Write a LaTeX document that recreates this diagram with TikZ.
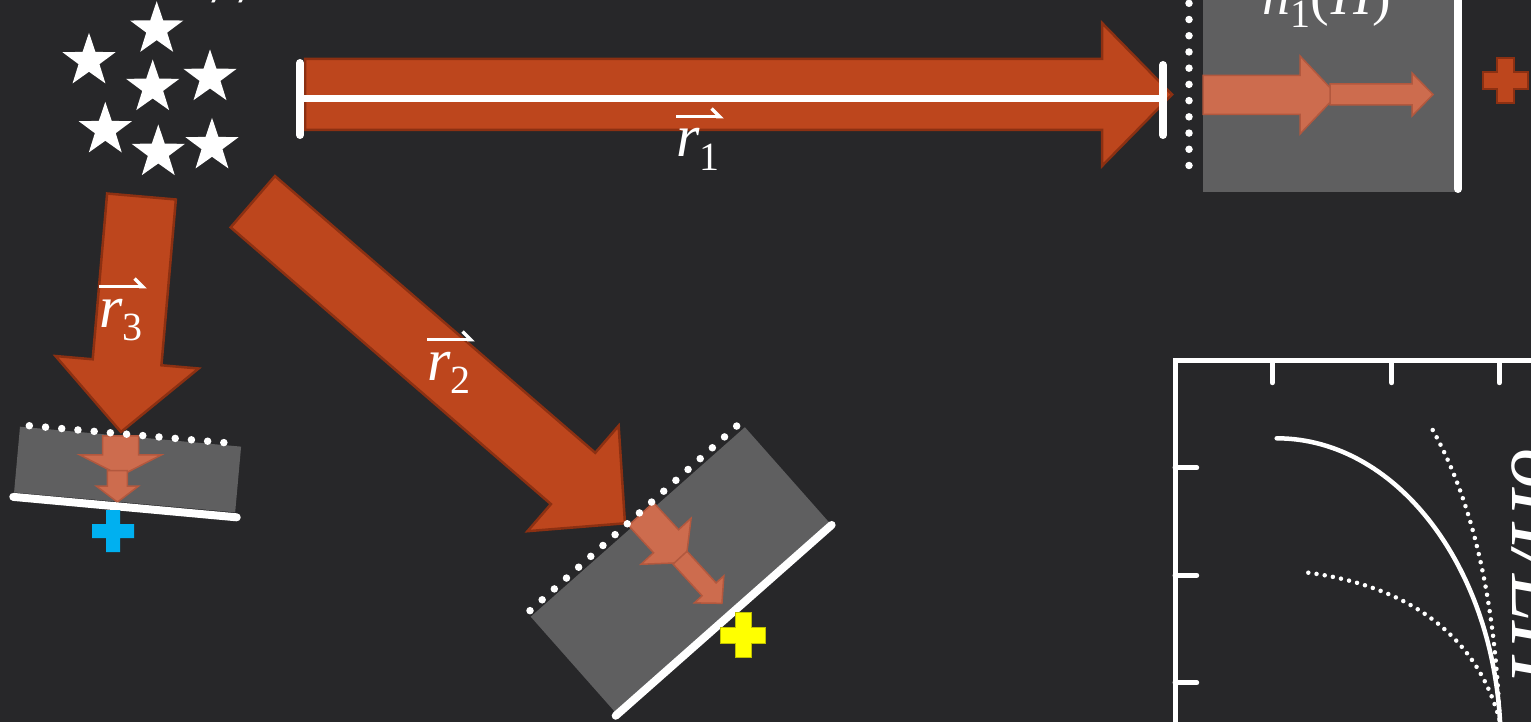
\documentclass[tikz,border=0pt]{standalone}
\usepackage{fontspec}
\newfontfamily\carl{Carlito}
\newfontfamily\lbs{Liberation Serif}
\usetikzlibrary{shapes.geometric,arrows.meta}
\definecolor{bg}{RGB}{39,39,41}
\definecolor{rust}{RGB}{189,70,29}
\definecolor{rustdark}{RGB}{140,48,18}
\definecolor{paleo}{RGB}{205,108,78}
\definecolor{paleodark}{RGB}{178,88,62}
\definecolor{boxgray}{RGB}{95,95,96}
\definecolor{skyb}{RGB}{0,176,240}
\definecolor{yel}{RGB}{255,255,0}
\definecolor{yeldark}{RGB}{190,190,0}
\newcommand\subtxt[1]{\raisebox{-0.22em}{\fontsize{40}{40}\selectfont\upshape #1}}
\tikzset{
  pics/barrow/.style n args={4}{code={%
    \path[pic actions] (0,#2) -- ({#1-#4},#2) -- ({#1-#4},#3) -- (#1,0) -- ({#1-#4},-#3) -- ({#1-#4},-#2) -- (0,-#2) -- cycle;}},
  pics/plusmark/.style 2 args={code={%
    \path[pic actions] ({-#2/2},{#1/2}) -- ({#2/2},{#1/2}) -- ({#2/2},{#2/2}) -- ({#1/2},{#2/2}) -- ({#1/2},{-#2/2}) -- ({#2/2},{-#2/2}) -- ({#2/2},{-#1/2}) -- ({-#2/2},{-#1/2}) -- ({-#2/2},{-#2/2}) -- ({-#1/2},{-#2/2}) -- ({-#1/2},{#2/2}) -- ({-#2/2},{#2/2}) -- cycle;}},
  bigarrow/.style={fill=rust, draw=rustdark, line width=2.5pt, line join=miter},
  smallarrow/.style={fill=paleo, draw=paleodark, line width=1.5pt, line join=miter},
  graybox/.style={fill=boxgray},
  whiteline/.style={draw=white, line width=8pt, line cap=round},
  dotline/.style={draw=white, line width=7.5pt, line cap=round, dash pattern=on 0pt off #1},
  plotdots/.style={draw=white, line width=4.5pt, line cap=round, dash pattern=on 0pt off 8.3pt},
  axisline/.style={draw=white, line width=5pt, line join=miter},
  tickline/.style={draw=white, line width=5pt, line cap=round},
  starmark/.style={star, star points=5, star point ratio=2.55, fill=white, minimum size=56pt, inner sep=0pt},
  lab/.style={text=white, inner sep=0pt, font=\lbs\fontsize{60}{60}\selectfont},
  harp/.style={draw=white, line width=3.5pt, -{Straight Barb[harpoon, length=8pt, width=16pt]}},
}
\begin{document}
\begin{tikzpicture}[x=1pt,y=1pt]
\useasboundingbox (0,0) rectangle (1531,-722);
\clip (0,0) rectangle (1531,-722);
\fill[bg] (0,0) rectangle (1531,-722);

% stars
\node[starmark] (s1) at (156.7,-29.2) {};
\node[starmark] (s2) at (89,-60.8) {};
\node[starmark] (s3) at (152.7,-87.5) {};
\node[starmark] (s4) at (210,-77.5) {};
\node[starmark] (s5) at (105.3,-129.8) {};
\node[starmark] (s6) at (158.3,-152.5) {};
\node[starmark] (s7) at (212,-145.8) {};
\node[text=white, inner sep=0pt, anchor=base west, font=\carl\fontsize{40}{40}\selectfont] (toptxt) at (207,3) {y y};

% top-right box
\fill[graybox] (1203,5) rectangle (1455,-192);
\pic[smallarrow] at (1203,-95) {barrow={134}{19.5}{39}{37}};
\pic[smallarrow] at (1330,-94.5) {barrow={103}{10.5}{21.5}{21}};
\draw[whiteline] (1458,8) -- (1458,-189);

% left box
\begin{scope}[shift={(20,-426.7)}, rotate=-5.15]
  \fill[graybox] (0,0) rectangle (222,-66);
  \pic[smallarrow, rotate=-90] at (101,0) {barrow={40}{18}{41}{21}};
  \pic[smallarrow, rotate=-90] at (101,-35) {barrow={31.5}{10}{21}{16}};
  \draw[whiteline] (-0.4,-70.5) -- (224,-70.8);
\end{scope}

% middle box
\begin{scope}[shift={(530.7,-616.7)}, rotate=41.5]
  \fill[graybox] (0,0) rectangle (286,-129);
  \draw[whiteline] (-2,-130.5) -- (286.2,-130.7);
\end{scope}
\pic[smallarrow, rotate=-47.4] at (641,-514) {barrow={66}{17}{34}{29}};
\pic[smallarrow, rotate=-47.4] at (680,-557.7) {barrow={62}{9.5}{20}{19}};

% big arrows
\pic[bigarrow] at (305,-94.5) {barrow={867}{35.5}{71.5}{70}};
\pic[bigarrow, rotate=-94.98] at (141.5,-196.5) {barrow={236.4}{34.5}{71.8}{70}};
\pic[bigarrow, rotate=-40.83] at (252.8,-201.7) {barrow={491.9}{33.9}{69.7}{68.6}};

% measuring line across r1
\draw[draw=white, line width=7pt] (300,-98.5) -- (1163,-98.5);
\draw[whiteline] (300,-63) -- (300,-135);
\draw[whiteline] (1163,-65) -- (1163,-135);

% dotted lines
\draw[dotline=16.22pt] (1189,-3.3) -- (1189,-181.7);
\begin{scope}[shift={(20,-426.7)}, rotate=-5.15]
  \draw[dotline=16.27pt] (9.2,1.8) -- (220.7,2.5);
\end{scope}
\begin{scope}[shift={(530.7,-616.7)}, rotate=41.5]
  \draw[dotline=16.3pt] (3.5,5) -- (280.7,6.3);
\end{scope}

% plus marks
\pic[fill=rust, draw=rustdark, line width=2pt] at (1505.5,-80.5) {plusmark={45}{17}};
\pic[fill=yel, draw=yeldark, line width=1pt] at (743.3,-635) {plusmark={45}{16}};
\pic[fill=skyb] at (113,-531) {plusmark={42}{14}};

% plot
\draw[axisline] (1175,-740) -- (1175,-360.7) -- (1545,-360.7);
\draw[tickline] (1272.3,-360.7) -- (1272.3,-382.7);
\draw[tickline] (1391.7,-360.7) -- (1391.7,-382.7);
\draw[tickline] (1499.3,-360.7) -- (1499.3,-382.7);
\draw[tickline] (1175,-467.7) -- (1196.7,-467.7);
\draw[tickline] (1175,-575.3) -- (1196.7,-575.3);
\draw[tickline] (1175,-682.7) -- (1196.7,-682.7);
\draw[white, line width=4.5pt, line cap=round] (1276.7,-438.3) arc[start angle=90, end angle=0, x radius=224, y radius=307];
\draw[plotdots] (1432.7,-430) .. controls (1472,-500) and (1496,-600) .. (1500,-730);
\draw[plotdots] (1308.3,-572.7) .. controls (1400,-585) and (1480,-630) .. (1502,-730);

% labels
\node[lab, anchor=base west] (r1lab) at (676,-157) {\itshape r\subtxt{1}};
\draw[harp] ([yshift=12pt]r1lab.north west) -- ([yshift=12pt,xshift=4pt]r1lab.north east);
\node[lab, anchor=base west] (r3lab) at (99,-327) {\itshape r\subtxt{3}};
\draw[harp] ([yshift=12pt]r3lab.north west) -- ([yshift=12pt,xshift=4pt]r3lab.north east);
\node[lab, anchor=base west] (r2lab) at (427,-380) {\itshape r\subtxt{2}};
\draw[harp] ([yshift=12pt]r2lab.north west) -- ([yshift=12pt,xshift=4pt]r2lab.north east);
\node[lab, anchor=base west, font=\lbs\fontsize{56}{56}\selectfont] (hlab) at (1262,-15) {{\itshape h}\subtxt{1}(\kern0.05em{\itshape H})};
\node[lab, anchor=base, rotate=-90, font=\lbs\fontsize{86}{86}\selectfont] (ylab) at (1512,-566) {\itshape δH/LH};
\end{tikzpicture}
\end{document}
